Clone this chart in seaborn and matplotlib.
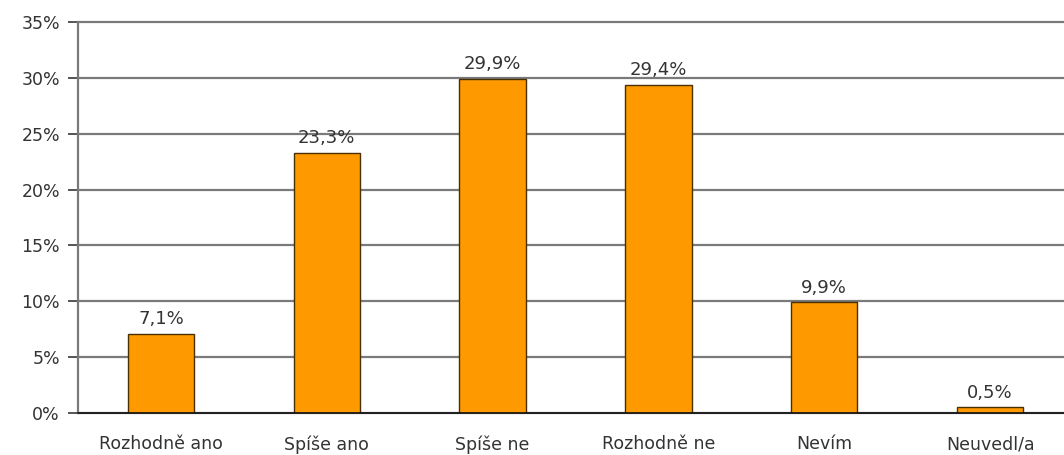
import matplotlib
matplotlib.use("Agg")
import matplotlib.pyplot as plt
import seaborn as sns
import pandas as pd
from matplotlib.ticker import MultipleLocator, FuncFormatter

categories = ["Rozhodně ano", "Spíše ano", "Spíše ne", "Rozhodně ne", "Nevím", "Neuvedl/a"]
values = [7.1, 23.3, 29.9, 29.4, 9.9, 0.5]
value_labels = ["7,1%", "23,3%", "29,9%", "29,4%", "9,9%", "0,5%"]

df = pd.DataFrame({"cat": categories, "val": values})

sns.set_theme(style="white")
plt.rcParams['font.family'] = ['DejaVu Sans']

fig = plt.figure(figsize=(10.64, 4.55), dpi=100)
ax = fig.add_axes([78/1064, 42/455, 995/1064, 391/455])

sns.barplot(data=df, x="cat", y="val", color="#FF9900", width=0.4,
            edgecolor="#4a3000", linewidth=1.0, saturation=1, ax=ax, zorder=3)

ax.set_ylim(0, 35)
ax.set_xlim(-0.5, 5.5)
ax.yaxis.set_major_locator(MultipleLocator(5))
ax.yaxis.set_major_formatter(FuncFormatter(lambda v, p: f"{int(v)}%"))
ax.grid(axis="y", color="#7a7a7a", linewidth=1.6, zorder=0)
ax.set_axisbelow(True)
for gl in ax.get_ygridlines():
    gl.set_clip_on(False)

for s in ["top", "right"]:
    ax.spines[s].set_visible(False)
ax.spines["left"].set_color("#7a7a7a")
ax.spines["left"].set_linewidth(1.6)
ax.spines["bottom"].set_color("#111111")
ax.spines["bottom"].set_linewidth(1.2)
ax.spines["bottom"].set_zorder(4)

ax.tick_params(axis="y", left=True, length=7, width=1.4, color="#555555",
               labelsize=12.5, labelcolor="#333333", pad=6)
ax.tick_params(axis="x", bottom=False, labelsize=12.5, labelcolor="#333333", pad=10)
ax.set_xlabel("")
ax.set_ylabel("")

for i, (v, lab) in enumerate(zip(values, value_labels)):
    ax.text(i, v + 0.5, lab, ha="center", va="bottom", fontsize=13, color="#333333", zorder=5)

fig.savefig("out.png", dpi=100)
